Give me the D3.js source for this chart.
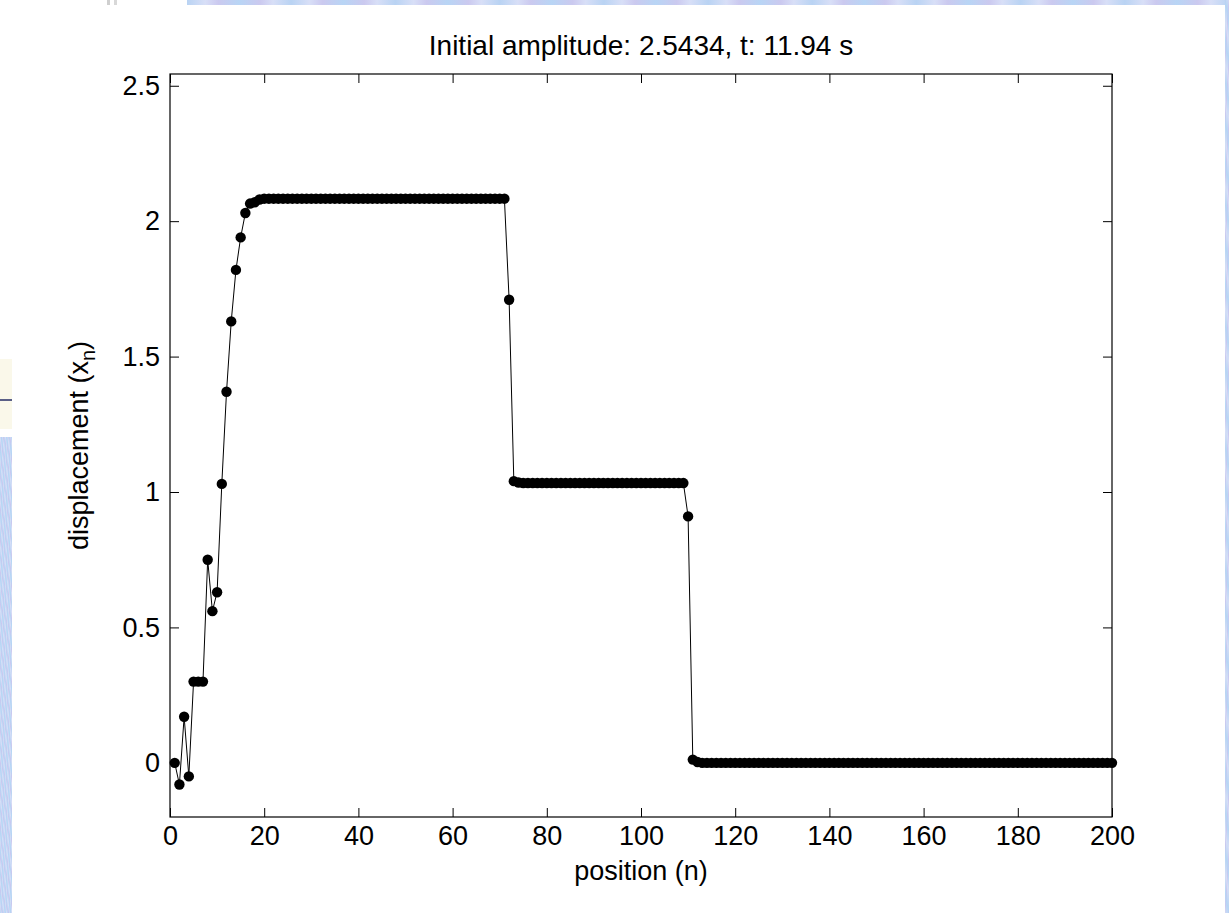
<!DOCTYPE html>
<html>
<head>
<meta charset="utf-8">
<script src="https://cdn.jsdelivr.net/npm/d3@7"></script>
<style>
  html, body { margin: 0; padding: 0; background: #fff; }
  svg { display: block; }
  text { font-family: "Liberation Sans", Arial, sans-serif; fill: #000; }
</style>
</head>
<body>
<svg id="chart" width="1229" height="913"></svg>
<script>
// Chain displacement profile x_n at t = 11.94 s
const positions = d3.range(1, 201);

// leading transient, n = 1..19
const headValues = [0, -0.08, 0.17, -0.05, 0.30, 0.30, 0.30, 0.75, 0.56, 0.63,
                    1.03, 1.37, 1.63, 1.82, 1.94, 2.03, 2.065, 2.07, 2.08];
// first plateau, n = 20..71
const plateauHigh = new Array(52).fill(2.083);
// first drop, n = 72..74
const dropOne = [1.71, 1.04, 1.035];
// second plateau, n = 75..109
const plateauMid = new Array(35).fill(1.033);
// second drop, n = 110..112
const dropTwo = [0.91, 0.012, 0.003];
// rest of the chain at rest, n = 113..200
const tailValues = new Array(88).fill(0);

const displacement = [].concat(headValues, plateauHigh, dropOne, plateauMid, dropTwo, tailValues);

const xTicks = [0, 20, 40, 60, 80, 100, 120, 140, 160, 180, 200];
const yTicks = [0, 0.5, 1, 1.5, 2, 2.5];
const xDomain = [0, 200];
const yDomain = [-0.2, 2.5434];

const titleText = "Initial amplitude: 2.5434, t: 11.94 s";
const xLabelText = "position (n)";

const svg = d3.select("#chart");
const W = 1229, H = 913;
const m = { left: 170, right: 1112, top: 74, bottom: 817 };
const FS = 27;

// slide background showing around the figure
const defs = svg.append("defs");
const grad = defs.append("linearGradient").attr("id", "slideTex")
  .attr("x1", "0").attr("y1", "0").attr("x2", "0.02").attr("y2", "0.06")
  .attr("spreadMethod", "reflect");
[["0", "#b9d3f3"], ["0.3", "#d6def7"], ["0.5", "#c9c8ef"], ["0.7", "#b5d6f5"], ["1", "#d2dcf5"]]
  .forEach(([o, c]) => grad.append("stop").attr("offset", o).attr("stop-color", c));
const gradH = defs.append("linearGradient").attr("id", "slideTexH")
  .attr("x1", "0").attr("y1", "0").attr("x2", "0.05").attr("y2", "0")
  .attr("spreadMethod", "reflect");
[["0", "#b9d3f3"], ["0.35", "#d8dff7"], ["0.6", "#cbc9ef"], ["1", "#b8d5f5"]]
  .forEach(([o, c]) => gradH.append("stop").attr("offset", o).attr("stop-color", c));

svg.append("rect").attr("x", 187).attr("y", 0).attr("width", W - 187).attr("height", 5).attr("fill", "url(#slideTexH)");
svg.append("rect").attr("x", 1225).attr("y", 0).attr("width", 4).attr("height", H).attr("fill", "url(#slideTex)");
svg.append("rect").attr("x", 0).attr("y", 437).attr("width", 12).attr("height", H - 437).attr("fill", "url(#slideTex)");
svg.append("rect").attr("x", 0).attr("y", 359).attr("width", 12).attr("height", 70).attr("fill", "#faf8ea");
svg.append("rect").attr("x", 0).attr("y", 399).attr("width", 12).attr("height", 2).attr("fill", "#5a5f86");
svg.append("rect").attr("x", 107).attr("y", 0).attr("width", 3).attr("height", 5).attr("fill", "#cfcfcf");
svg.append("rect").attr("x", 114).attr("y", 0).attr("width", 3).attr("height", 5).attr("fill", "#d8d8d8");

const x = d3.scaleLinear().domain(xDomain).range([m.left, m.right]);
const y = d3.scaleLinear().domain(yDomain).range([m.bottom, m.top]);

const tickLen = 9;

// ticks on all four sides, pointing inward
const gBottom = svg.append("g").attr("transform", `translate(0,${m.bottom})`)
  .call(d3.axisBottom(x).tickValues(xTicks).tickSizeInner(-tickLen).tickSizeOuter(0).tickPadding(9).tickFormat(d3.format("d")));
const gTop = svg.append("g").attr("transform", `translate(0,${m.top})`)
  .call(d3.axisTop(x).tickValues(xTicks).tickSizeInner(-tickLen).tickSizeOuter(0).tickFormat(""));
const gLeft = svg.append("g").attr("transform", `translate(${m.left},0)`)
  .call(d3.axisLeft(y).tickValues(yTicks).tickSizeInner(-tickLen).tickSizeOuter(0).tickPadding(10).tickFormat(d => d3.format("")(d)));
const gRight = svg.append("g").attr("transform", `translate(${m.right},0)`)
  .call(d3.axisRight(y).tickValues(yTicks).tickSizeInner(-tickLen).tickSizeOuter(0).tickFormat(""));

[gBottom, gTop, gLeft, gRight].forEach(g => {
  g.select(".domain").remove();
  g.selectAll(".tick line").attr("stroke", "#000").attr("stroke-width", 1);
  g.selectAll(".tick text").attr("font-size", FS).attr("font-family", "Liberation Sans, Arial, sans-serif").attr("fill", "#000");
});
gBottom.selectAll(".tick text").attr("dy", "0.71em");

// axes box
svg.append("rect")
  .attr("x", m.left).attr("y", m.top)
  .attr("width", m.right - m.left).attr("height", m.bottom - m.top)
  .attr("fill", "none").attr("stroke", "#000").attr("stroke-width", 1.2);

const pts = positions.map((n, i) => ({ n, v: displacement[i] }));

// connecting line
svg.append("path")
  .datum(pts)
  .attr("fill", "none")
  .attr("stroke", "#000")
  .attr("stroke-width", 1)
  .attr("d", d3.line().x(d => x(d.n)).y(d => y(d.v)));

// markers
svg.append("g").selectAll("circle")
  .data(pts)
  .join("circle")
  .attr("cx", d => x(d.n))
  .attr("cy", d => y(d.v))
  .attr("r", 5.2)
  .attr("fill", "#000");

// title and labels
svg.append("text")
  .attr("x", (m.left + m.right) / 2).attr("y", 55)
  .attr("text-anchor", "middle").attr("font-size", 28)
  .text(titleText);

svg.append("text")
  .attr("x", (m.left + m.right) / 2).attr("y", 880)
  .attr("text-anchor", "middle").attr("font-size", FS)
  .text(xLabelText);

const yl = svg.append("text")
  .attr("transform", `translate(88,${(m.top + m.bottom) / 2}) rotate(-90)`)
  .attr("text-anchor", "middle").attr("font-size", FS);
yl.append("tspan").text("displacement (x");
yl.append("tspan").attr("font-size", 20).attr("dy", 7).text("n");
yl.append("tspan").attr("dy", -7).text(")");
</script>
</body>
</html>
